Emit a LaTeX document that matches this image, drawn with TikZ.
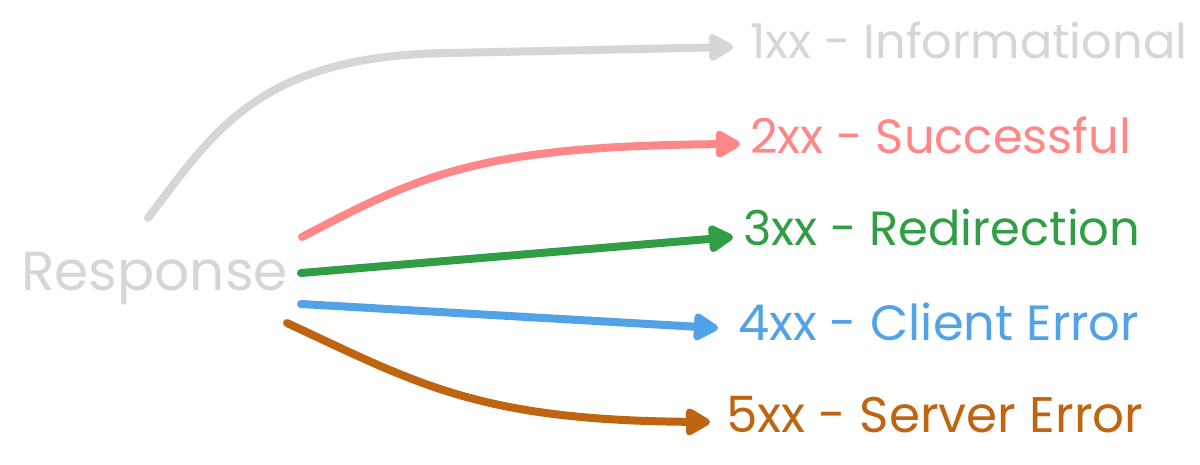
\documentclass[tikz,border=0pt]{standalone}
\usepackage{fontspec}
\setmainfont{Poppins}
\usetikzlibrary{arrows.meta}
\definecolor{cgray}{HTML}{D6D6D6}
\definecolor{cred}{HTML}{FF8787}
\definecolor{cgreen}{HTML}{2F9E44}
\definecolor{cblue}{HTML}{52A2E8}
\definecolor{cbrown}{HTML}{BF6410}
\begin{document}
\begin{tikzpicture}[x=1pt,y=-1pt,
  lbl/.style={anchor=base west, inner sep=0pt, font=\fontsize{48}{52}\selectfont},
  conn/.style={line width=8pt, line cap=round, line join=round,
    -{Triangle[length=28pt,width=30pt,round]}},
]
\useasboundingbox (0,0) rectangle (1200,464);
\fill[white] (0,0) rectangle (1200,464);
% source
\node[anchor=base west, inner sep=0pt, text=cgray, font=\fontsize{55}{60}\selectfont] (resp) at (21,290) {Response};
% labels
\node[lbl, text=cgray]  (t1) at (750,58)  {1xx - Informational};
\node[lbl, text=cred]   (t2) at (750,153) {2xx - Successful};
\node[lbl, text=cgreen] (t3) at (743,245) {3xx - Redirection};
\node[lbl, text=cblue, font=\fontsize{49.5}{52}\selectfont]  (t4) at (738,340) {4xx - Client Error};
\node[lbl, text=cbrown, font=\fontsize{50}{52}\selectfont] (t5) at (726,432) {5xx - Server Error};
% connector ends
\coordinate (s1) at (148,218);
\coordinate (s2) at (302,237);
\coordinate (s3) at (301,273);
\coordinate (s4) at (301,304);
\coordinate (s5) at (287,323);
\coordinate (e1) at (733,47);
\coordinate (e2) at (740,144);
\coordinate (e3) at (733,237);
\coordinate (e4) at (718,328);
\coordinate (e5) at (710,422);
% connectors
\draw[conn, cgray]  (s1) .. controls (215,130) and (260,55) .. (450,53) -- (e1);
\draw[conn, cred]   (s2) .. controls (420,175) and (480,146) .. (e2);
\draw[conn, cgreen] (s3) -- (e3);
\draw[conn, cblue]  (s4) -- (e4);
\draw[conn, cbrown] (s5) .. controls (420,385) and (480,420) .. (e5);
\end{tikzpicture}
\end{document}
